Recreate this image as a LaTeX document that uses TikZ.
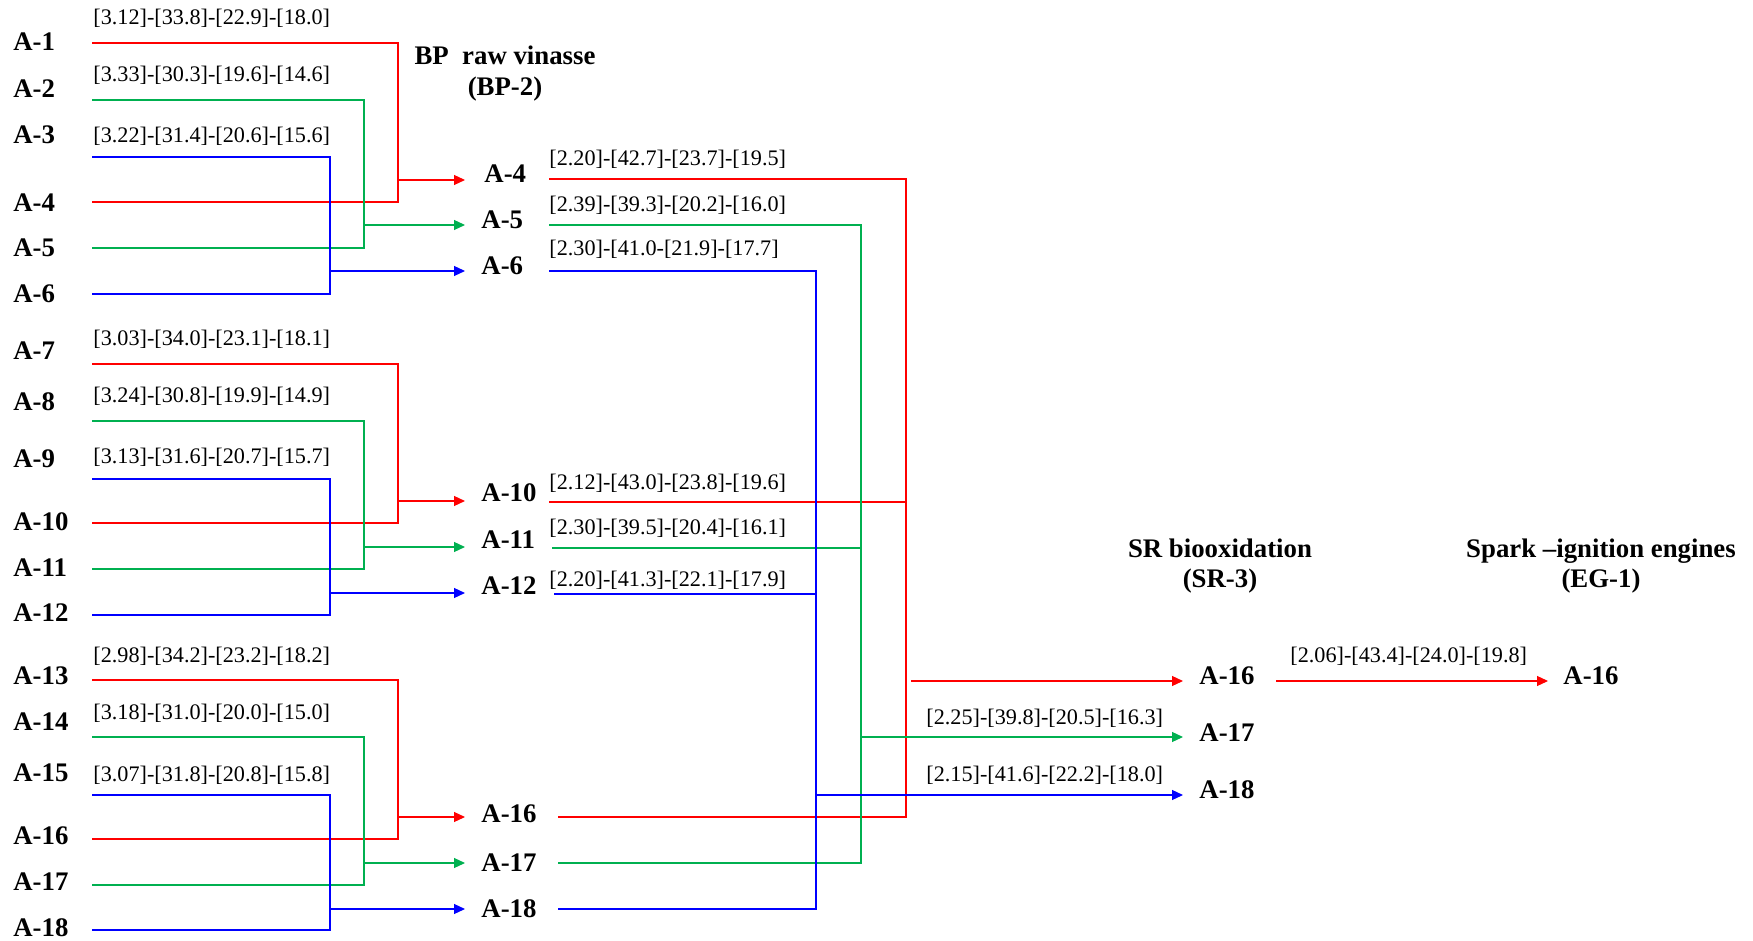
\documentclass[tikz,border=0pt]{standalone}
\usepackage{fontspec}
\setmainfont{Liberation Serif}
\usetikzlibrary{arrows.meta}
\definecolor{cR}{RGB}{255,0,0}
\definecolor{cG}{RGB}{0,176,80}
\definecolor{cB}{RGB}{0,0,255}
\begin{document}
\begin{tikzpicture}[x=0.5pt,y=-0.5pt,
  lab/.style={font=\fontsize{13.4}{15}\selectfont\bfseries, inner sep=0pt, anchor=west},
  val/.style={font=\fontsize{11.1}{12}\selectfont, inner sep=0pt, anchor=west},
  hdr/.style={font=\fontsize{13.4}{15}\selectfont\bfseries, inner sep=0pt, align=center, anchor=north},
  ln/.style={line width=0.6pt},
  arr/.style={ln,-{Triangle[length=5.5pt,width=5pt]}}]
\useasboundingbox (0,0) rectangle (1753,941);
% headers
\node[hdr] (hBP) at (505,46) {BP\ \ raw\ vinasse\\[0.5pt](BP-2)};
\node[hdr] (hSR) at (1220,539) {SR biooxidation\\(SR-3)};
\node[hdr] (hEG) at (1601,539) {Spark --ignition engines\\(EG-1)};
% left labels
\foreach \n/\y in {1/42,2/89,3/135,4/203,5/248,6/294,7/351,8/402,9/459,10/522,11/568,12/613,13/676,14/722,15/773,16/836,17/882,18/928}
  \node[lab] (L\n) at (13,\y) {A-\n};
% left values
\node[val] (v1) at (93,18) {[3.12]-[33.8]-[22.9]-[18.0]};
\node[val] (v2) at (93,75) {[3.33]-[30.3]-[19.6]-[14.6]};
\node[val] (v3) at (93,136) {[3.22]-[31.4]-[20.6]-[15.6]};
\node[val] (v7) at (93,339) {[3.03]-[34.0]-[23.1]-[18.1]};
\node[val] (v8) at (93,396) {[3.24]-[30.8]-[19.9]-[14.9]};
\node[val] (v9) at (93,457) {[3.13]-[31.6]-[20.7]-[15.7]};
\node[val] (v13) at (93,656) {[2.98]-[34.2]-[23.2]-[18.2]};
\node[val] (v14) at (93,713) {[3.18]-[31.0]-[20.0]-[15.0]};
\node[val] (v15) at (93,775) {[3.07]-[31.8]-[20.8]-[15.8]};
% middle labels
\node[lab] (M4) at (484,174) {A-4};
\node[lab] (M5) at (481,220) {A-5};
\node[lab] (M6) at (481,266) {A-6};
\node[lab] (M10) at (481,493) {A-10};
\node[lab] (M11) at (481,540) {A-11};
\node[lab] (M12) at (481,586) {A-12};
\node[lab] (M16) at (481,814) {A-16};
\node[lab] (M17) at (481,863) {A-17};
\node[lab] (M18) at (481,909) {A-18};
% middle values
\node[val] (w4) at (549,159) {[2.20]-[42.7]-[23.7]-[19.5]};
\node[val] (w5) at (549,205) {[2.39]-[39.3]-[20.2]-[16.0]};
\node[val] (w6) at (549,249) {[2.30]-[41.0-[21.9]-[17.7]};
\node[val] (w10) at (549,483) {[2.12]-[43.0]-[23.8]-[19.6]};
\node[val] (w11) at (549,528) {[2.30]-[39.5]-[20.4]-[16.1]};
\node[val] (w12) at (549,580) {[2.20]-[41.3]-[22.1]-[17.9]};
% SR labels
\node[lab] (S16) at (1199,676) {A-16};
\node[lab] (S17) at (1199,733) {A-17};
\node[lab] (S18) at (1199,790) {A-18};
\node[val] (x17) at (926,718) {[2.25]-[39.8]-[20.5]-[16.3]};
\node[val] (x18) at (926,775) {[2.15]-[41.6]-[22.2]-[18.0]};
% EG
\node[lab] (E16) at (1563,676) {A-16};
\node[val] (y16) at (1290,656) {[2.06]-[43.4]-[24.0]-[19.8]};
% left blocks
\foreach \b/\ra/\ga/\ba/\rb/\gb/\bb/\ar/\ag/\ab in {1/43/100/157/202/248/294/180/225/271, 2/364/421/479/523/569/615/501/547/593, 3/680/737/795/839/885/930/817/863/909} {
  \coordinate (rs\b) at (92,\ra); \coordinate (re\b) at (92,\rb);
  \coordinate (gs\b) at (92,\ga); \coordinate (ge\b) at (92,\gb);
  \coordinate (bs\b) at (92,\ba); \coordinate (be\b) at (92,\bb);
  \coordinate (rj\b) at (398,\ar); \coordinate (gj\b) at (364,\ag); \coordinate (bj\b) at (330,\ab);
  \coordinate (rt\b) at (465,\ar); \coordinate (gt\b) at (465,\ag); \coordinate (bt\b) at (465,\ab);
  \draw[ln,cR] (rs\b) -| (rj\b |- re\b) -- (re\b);
  \draw[ln,cG] (gs\b) -| (gj\b |- ge\b) -- (ge\b);
  \draw[ln,cB] (bs\b) -| (bj\b |- be\b) -- (be\b);
  \draw[arr,cR] (rj\b) -- (rt\b);
  \draw[arr,cG] (gj\b) -- (gt\b);
  \draw[arr,cB] (bj\b) -- (bt\b);
}
% middle to SR
\coordinate (mr1) at (549,179); \coordinate (mr2) at (549,502); \coordinate (mr3) at (558,817);
\coordinate (mg1) at (549,225); \coordinate (mg2) at (552,548); \coordinate (mg3) at (558,863);
\coordinate (mb1) at (549,271); \coordinate (mb2) at (554,594); \coordinate (mb3) at (558,909);
\coordinate (jr) at (906,681); \coordinate (jg) at (861,737); \coordinate (jb) at (816,795);
\coordinate (jr2) at (911,681);
\coordinate (tr) at (1183,681); \coordinate (tg) at (1183,737); \coordinate (tb) at (1183,795);
\draw[ln,cR] (mr1) -| (jr |- mr3) -- (mr3);
\draw[ln,cR] (mr2) -- (jr |- mr2);
\draw[ln,cG] (mg1) -| (jg |- mg3) -- (mg3);
\draw[ln,cG] (mg2) -- (jg |- mg2);
\draw[ln,cB] (mb1) -| (jb |- mb3) -- (mb3);
\draw[ln,cB] (mb2) -- (jb |- mb2);
\draw[arr,cR] (jr2) -- (tr);
\draw[arr,cG] (jg) -- (tg);
\draw[arr,cB] (jb) -- (tb);
% SR to EG
\coordinate (fs) at (1276,681); \coordinate (ft) at (1548,681);
\draw[arr,cR] (fs) -- (ft);
\end{tikzpicture}
\end{document}
